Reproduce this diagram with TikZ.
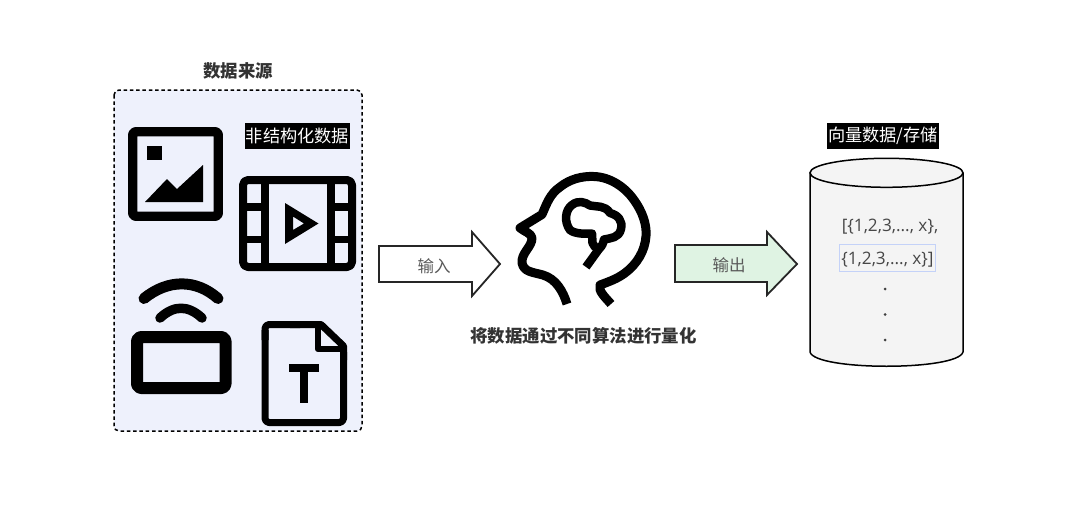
\documentclass[tikz,border=0pt]{standalone}
\usepackage{fontspec}
\setmainfont{Open Sans}[Scale=1]
\newfontfamily\cjk{Noto Sans CJK SC}
\definecolor{panelfill}{HTML}{EEF1FC}
\definecolor{txtgray}{HTML}{333333}
\definecolor{greenfill}{HTML}{DFF3E3}
\definecolor{cylfill}{HTML}{F4F4F4}
\definecolor{hlblue}{HTML}{C4D2F8}
\tikzset{
  x=1pt,y=-1pt,
  icon/.style={draw=black,line join=round},
  title/.style={font=\cjk\bfseries\fontsize{17.4}{19}\selectfont,text=txtgray,inner sep=0pt},
  tag/.style={fill=black,text=white,font=\cjk\fontsize{17.2}{19}\selectfont,inner sep=0pt,minimum height=26pt},
  blockarrow/.style={draw=black!85,line width=1.8pt,line join=miter},
  arrowtext/.style={font=\cjk\fontsize{16.5}{18}\selectfont,text=black!65,inner sep=0pt},
  datatext/.style={font=\fontsize{17.2}{20}\selectfont,text=black!72,inner sep=0pt},
  dotmark/.style={circle,fill=black!75,inner sep=0pt,minimum size=3pt},
}
\begin{document}
\begin{tikzpicture}
\useasboundingbox (0,0) rectangle (1080,514);
\fill[white] (0,0) rectangle (1080,514);
% source panel
\draw[fill=panelfill,draw=black,line width=1.5pt,dash pattern=on 3.5pt off 2.8pt,rounded corners=5pt] (114,90) rectangle (362,431);
\node[title] (srctitle) at (238,70.5) {数据来源};
\node[tag,minimum width=105pt] (unstruct) at (297.5,136) {非结构化数据};
% image icon
\draw[icon,line width=9.3pt,rounded corners=3pt] (132.7,131.7) rectangle (218.3,216.3);
\fill (147,146) rectangle (162,160);
\fill[line join=round] (145,202) -- (167,179) -- (177,189) -- (203,165) -- (203,202) -- cycle;
% video icon
\draw[icon,line width=8pt,rounded corners=5pt] (243,180) rectangle (352,267);
\draw[icon,line width=8pt] (265,180) -- (265,267) (330.5,180) -- (330.5,267);
\draw[icon,line width=7.5pt] (243,207) -- (265,207) (243,239.5) -- (265,239.5) (330.5,207) -- (352,207) (330.5,239.5) -- (352,239.5);
\fill[even odd rule] (285,203) -- (318.5,223.5) -- (285,244) -- cycle (293,216.5) -- (304,223.5) -- (293,230) -- cycle;
% wireless icon
\draw[icon,line width=12pt,rounded corners=4pt] (137,337) rectangle (225.5,388);
\draw[icon,line width=11pt,line cap=round] (144,298.5) .. controls (168,279) and (196,279) .. (218,298.5);
\draw[icon,line width=9.5pt,line cap=round] (160,318) .. controls (174,305) and (188,305) .. (202,318);
% document icon
\draw[icon,line width=7pt,rounded corners=4pt] (265,340) -- (265,324.5) -- (300,324.5);
\draw[icon,line width=7pt,rounded corners=4pt] (265,330) -- (265,422.5) -- (343.5,422.5) -- (343.5,352);
\draw[icon,line width=7pt] (290,324.5) -- (321,324.5) -- (343.5,346) -- (343.5,360);
\draw[icon,line width=6.5pt] (318,325) -- (318,349) -- (342,349);
\fill (289,364) rectangle (319,372);
\fill (300,364) rectangle (308,403);
% input arrow
\draw[blockarrow,fill=white] (379,246) -- (472,246) -- (472,232) -- (500,264) -- (472,296) -- (472,282) -- (379,282) -- cycle;
\node[arrowtext] (inlabel) at (434,266) {输入};
% head
\draw[icon,line width=9pt,line cap=butt] (567,304) .. controls (563,291) and (556,279) .. (543,275)
  .. controls (532,272) and (524,272) .. (522,263)
  .. controls (521,253) and (532,247) .. (532,238)
  .. controls (531,233) and (525,232) .. (520,228)
  -- (542,214.5)
  .. controls (547,203) and (550,194) .. (560,187)
  .. controls (570,179) and (582,176) .. (594,176.5)
  .. controls (610,177) and (625,187) .. (634,200)
  .. controls (642,211) and (647,224) .. (646,236)
  .. controls (645,251) and (637,264) .. (625,273)
  .. controls (617,279) and (608,282) .. (600,285)
  .. controls (598,291) and (605,297) .. (611,304);
% brain
\draw[icon,line width=8.5pt,line cap=butt] (570,230)
  .. controls (564,222) and (565,210) .. (572,205)
  .. controls (578,200) and (585,202) .. (590,205.5)
  .. controls (597,207) and (605,205) .. (610,213)
  .. controls (618,215) and (623,221) .. (621,229)
  .. controls (619,238) and (611,238) .. (604,239.5)
  .. controls (603,244) and (602,246) .. (599,249)
  .. controls (596,248) and (593,246) .. (592.5,243)
  -- (592,233.5)
  .. controls (585,234) and (575,234) .. (570,230) -- cycle;
\draw[icon,line width=8.5pt,line cap=butt] (599,249) -- (586,267);
\node[title] (algo) at (583.5,335.5) {将数据通过不同算法进行量化};
% output arrow
\draw[blockarrow,fill=greenfill] (675,245) -- (767,245) -- (767,232) -- (797,264) -- (767,295) -- (767,282) -- (675,282) -- cycle;
\node[arrowtext] (outlabel) at (729,265.5) {输出};
% cylinder
\node[tag,minimum width=112pt] (store) at (883,136) {向量数据/存储};
\draw[fill=cylfill,draw=black,line width=1.5pt] (810,172.8) -- (810,352) .. controls (815,371) and (958,371) .. (963,352) -- (963,172.8);
\draw[fill=cylfill,draw=black,line width=1.5pt] (886.5,172.8) ellipse [x radius=76.5,y radius=14.5];
\node[datatext] (row1) at (890,226.5) {[\{1,2,3,..., x\},};
\node[draw=hlblue,line width=1.5pt,minimum width=96pt,minimum height=27pt,inner sep=0pt] (rowbox) at (887.5,258) {};
\node[datatext] (row2) at (887.5,259.5) {\{1,2,3,..., x\}]};
\node[dotmark] (d1) at (885,289) {};
\node[dotmark] (d2) at (885,314.5) {};
\node[dotmark] (d3) at (885,340) {};
\end{tikzpicture}
\end{document}
